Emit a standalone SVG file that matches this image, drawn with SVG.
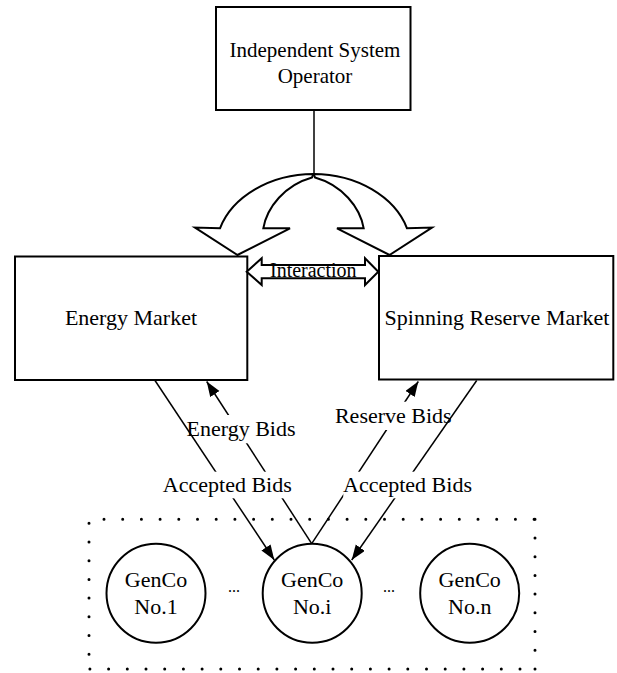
<svg xmlns="http://www.w3.org/2000/svg" width="617" height="673" viewBox="0 0 617 673">
<style>
text{font-family:"Liberation Serif","Times New Roman",serif;fill:#000;text-anchor:middle}
.box{fill:#fff;stroke:#000;stroke-width:2}
.ln{fill:none;stroke:#000;stroke-width:1.5}
.blk{fill:#fff;stroke:#000;stroke-width:2;stroke-linejoin:miter}
.dot{fill:none;stroke:#000;stroke-width:3;stroke-linecap:round;stroke-dasharray:0 18.7}
.bg{fill:#fff;stroke:none}
</style>
<defs>
<marker id="ah" markerUnits="userSpaceOnUse" markerWidth="16" markerHeight="12" refX="15" refY="5.5" orient="auto">
<path d="M0,0 L15,5.5 L0,11 Z" fill="#000"/>
</marker>
</defs>
<rect width="617" height="673" fill="#fff"/>

<g id="genco-group">
<line class="dot" x1="104" y1="519.3" x2="535" y2="519.3"/>
<line class="dot" x1="535" y1="519.3" x2="535" y2="669"/>
<line class="dot" x1="89" y1="523.3" x2="89" y2="669"/>
<line class="dot" x1="520" y1="669" x2="89" y2="669"/>
</g>

<g id="iso">
<rect class="box" x="216" y="7" width="194.5" height="103"/>
<text x="315" y="56.5" font-size="21">Independent System</text>
<text x="315" y="83" font-size="21">Operator</text>
</g>

<g id="energy-market">
<rect class="box" x="15" y="256.5" width="232.3" height="123.5"/>
<text x="131" y="325" font-size="22">Energy Market</text>
</g>

<g id="reserve-market">
<rect class="box" x="379" y="256" width="234.3" height="123.5"/>
<text x="497" y="325" font-size="22">Spinning Reserve Market</text>
</g>

<g id="genco-1">
<circle class="box" cx="156" cy="593.3" r="49.5"/>
<text x="156" y="587.3" font-size="22">GenCo</text>
<text x="156" y="614" font-size="22">No.1</text>
</g>
<g id="genco-i">
<circle class="box" cx="312.2" cy="593.3" r="49.5"/>
<text x="312.2" y="587.3" font-size="22">GenCo</text>
<text x="312.2" y="614" font-size="22">No.i</text>
</g>
<g id="genco-n">
<circle class="box" cx="469.7" cy="593.3" r="49.5"/>
<text x="469.7" y="587.3" font-size="22">GenCo</text>
<text x="469.7" y="614" font-size="22">No.n</text>
</g>
<g id="ellipsis-1"><text x="234" y="592" font-size="16">...</text></g>
<g id="ellipsis-2"><text x="389" y="592" font-size="16">...</text></g>

<g id="connectors">
<line class="ln" x1="314" y1="110" x2="314" y2="175"/>
<path class="blk" d="M313.5,174 C270,174 232,197 220,228.3 L195,227.5 L237.5,255 L290,228.3 L263.3,228.3 C267,207 285,185 312,177.5 Z"/>
<path class="blk" d="M313.5,174 C357,174 395,197 407,228.3 L432,227.5 L389.5,255 L337,228.3 L363.7,228.3 C360,207 342,185 315,177.5 Z"/>
<path class="blk" d="M246.7,271.7 L261.7,258.3 L261.7,265 L365,265 L365,258.3 L378.3,271.7 L365,285 L365,278.3 L261.7,278.3 L261.7,285 Z"/>
<text x="313.3" y="276.7" font-size="20">Interaction</text>

<line class="ln" x1="311.7" y1="543.6" x2="206.7" y2="381.5" marker-end="url(#ah)"/>
<line class="ln" x1="311.7" y1="543.6" x2="418.3" y2="381.5" marker-end="url(#ah)"/>
<rect class="bg" x="187" y="415" width="108" height="28.3"/>
<text x="241" y="435.7" font-size="22">Energy Bids</text>
<rect class="bg" x="335" y="401.7" width="116.7" height="28.3"/>
<text x="393.3" y="422.7" font-size="22">Reserve Bids</text>
<line class="ln" x1="155" y1="380.5" x2="274.3" y2="560" marker-end="url(#ah)"/>
<line class="ln" x1="476.7" y1="380.5" x2="351.7" y2="560" marker-end="url(#ah)"/>
<rect class="bg" x="163" y="471.7" width="128.7" height="26.6"/>
<text x="227.3" y="491.7" font-size="22">Accepted Bids</text>
<rect class="bg" x="343.3" y="471.7" width="128.4" height="26.6"/>
<text x="407.5" y="491.7" font-size="22">Accepted Bids</text>
</g>
</svg>
